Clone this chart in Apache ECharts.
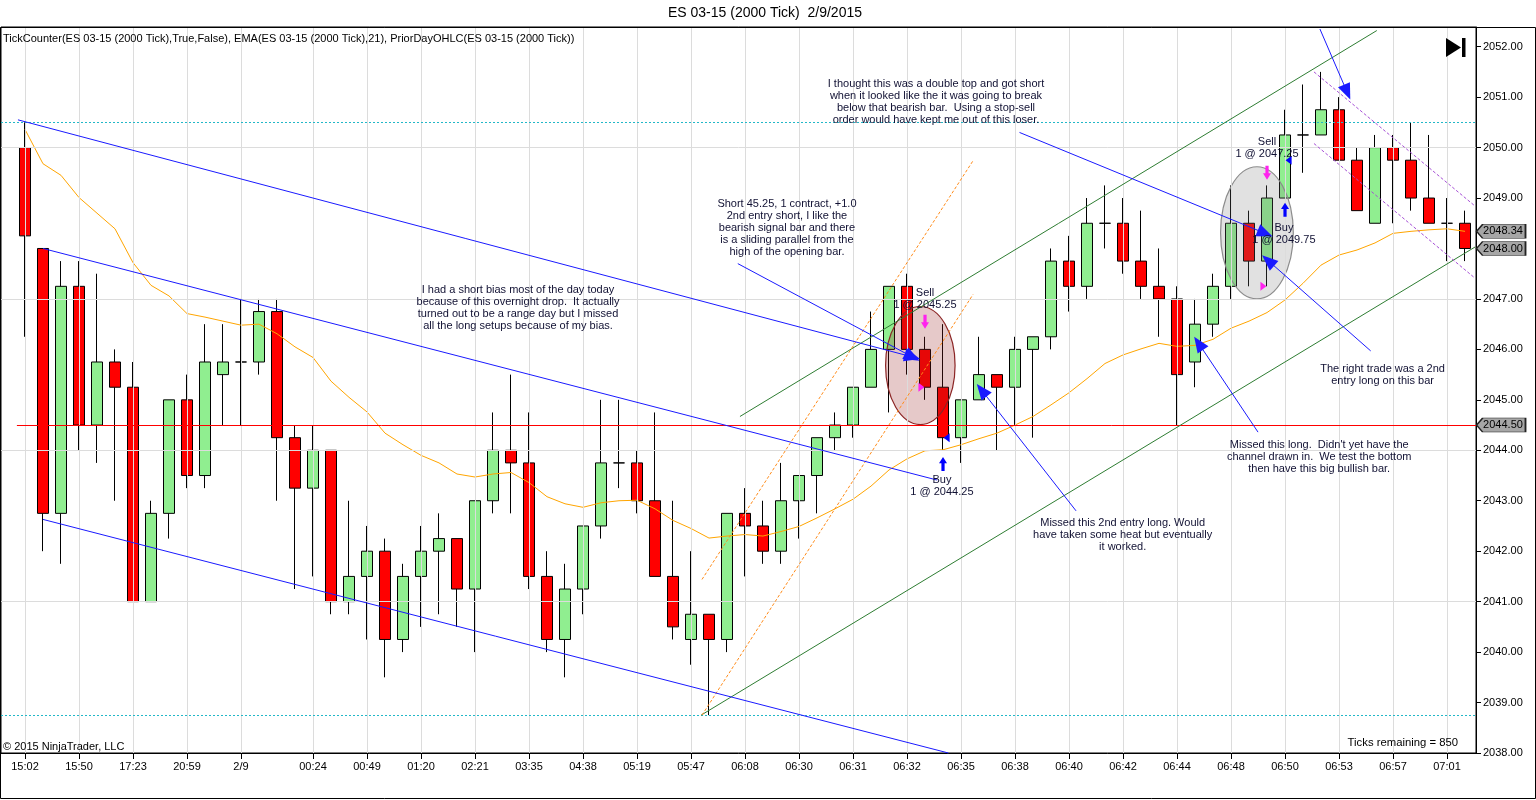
<!DOCTYPE html>
<html><head><meta charset="utf-8">
<script src="https://cdn.jsdelivr.net/npm/echarts@6/dist/echarts.min.js"></script>
<style>html,body{margin:0;padding:0;background:#fff}#chart{width:1536px;height:800px}</style>
</head><body><div id="chart"></div>
<script>
// ---- tick labels (time axis) ----
const tickIndex = [0,3,6,9,12,16,19,22,25,28,31,34,37,40,43,46,49,52,55,58,61,64,67,70,73,76,79];
const tickLabels = ['15:02','15:50','17:23','20:59','2/9','00:24','00:49','01:20','02:21','03:35','04:38','05:19','05:47','06:08','06:30','06:31','06:32','06:35','06:38','06:40','06:42','06:44','06:48','06:50','06:53','06:57','07:01'];
const priceTicks = [2038,2039,2040,2041,2042,2043,2044,2045,2046,2047,2048,2049,2050,2051,2052];
const gridPrices = [2041,2044,2047,2050];

// ---- OHLC bars ----
const opens = [2050.0,2048.0,2042.75,2047.25,2044.5,2045.75,2045.25,2041.0,2042.75,2045.0,
2043.5,2045.5,2045.75,2045.75,2046.75,2044.25,2043.25,2044.0,2041.0,2041.5,
2042.0,2040.25,2041.5,2042.0,2042.25,2041.25,2043.0,2044.0,2043.75,2041.5,
2040.25,2041.25,2042.5,2043.75,2043.75,2043.0,2041.5,2040.25,2040.75,2040.25,
2042.75,2042.5,2042.0,2043.0,2043.5,2044.25,2044.5,2045.25,2046.0,2047.25,
2046.0,2045.25,2044.25,2045.0,2045.5,2045.25,2046.0,2046.25,2047.75,2047.25,
2048.5,2048.5,2047.75,2047.25,2047.0,2045.75,2046.5,2047.25,2048.5,2047.75,
2049.0,2050.25,2050.25,2050.75,2049.75,2048.5,2050.0,2049.75,2049.0,2048.5,
2048.5];
const closes = [2048.25,2042.75,2047.25,2044.5,2045.75,2045.25,2041.0,2042.75,2045.0,2043.5,
2045.75,2045.75,2045.75,2046.75,2044.25,2043.25,2044.0,2041.0,2041.5,2042.0,
2040.25,2041.5,2042.0,2042.25,2041.25,2043.0,2044.0,2043.75,2041.5,2040.25,
2041.25,2042.5,2043.75,2043.75,2043.0,2041.5,2040.5,2040.75,2040.25,2042.75,
2042.5,2042.0,2043.0,2043.5,2044.25,2044.5,2045.25,2046.0,2047.25,2046.0,
2045.25,2044.25,2045.0,2045.5,2045.25,2046.0,2046.25,2047.75,2047.25,2048.5,
2048.5,2047.75,2047.25,2047.0,2045.5,2046.5,2047.25,2048.5,2047.75,2049.0,
2050.25,2050.25,2050.75,2049.75,2048.75,2050.0,2049.75,2049.0,2048.5,2048.5,
2048.0];
const lows = [2046.25,2042.0,2041.75,2044.0,2043.75,2043.0,2041.0,2041.0,2042.25,2043.25,
2043.25,2044.5,2044.5,2045.5,2043.0,2041.25,2041.5,2040.75,2040.75,2040.25,
2039.5,2040.0,2040.5,2040.75,2040.5,2040.0,2042.75,2042.75,2041.25,2040.0,
2039.5,2040.75,2042.25,2043.25,2042.75,2041.5,2040.25,2039.75,2038.75,2040.0,
2041.5,2041.75,2041.75,2042.25,2042.75,2044.0,2044.25,2045.25,2044.75,2045.5,
2045.0,2044.0,2043.75,2045.0,2044.0,2044.5,2044.25,2046.0,2046.75,2047.0,
2048.0,2047.5,2047.0,2046.25,2044.5,2045.25,2046.25,2047.0,2047.25,2047.25,
2049.0,2049.5,2050.25,2049.75,2048.75,2048.5,2048.5,2048.75,2048.5,2047.75,
2047.75];
const highs = [2050.5,2048.0,2047.75,2047.75,2047.5,2046.0,2045.75,2043.0,2045.0,2045.5,
2046.5,2046.5,2047.0,2047.0,2047.0,2044.5,2044.5,2044.0,2043.0,2042.5,
2042.25,2041.75,2042.5,2042.75,2042.25,2043.0,2044.75,2045.5,2044.75,2042.0,
2041.75,2042.5,2045.0,2045.0,2044.0,2044.75,2043.0,2042.0,2040.75,2042.75,
2043.25,2043.0,2043.75,2043.5,2044.25,2044.75,2045.25,2046.75,2047.25,2047.5,
2046.25,2046.5,2045.0,2046.25,2045.5,2046.25,2046.25,2048.0,2048.25,2049.0,
2049.25,2049.0,2048.75,2048.0,2047.25,2047.0,2047.5,2049.25,2048.75,2049.25,
2050.75,2051.25,2051.5,2051.0,2050.0,2050.25,2050.25,2050.5,2050.25,2049.0,
2048.75];
// ---- EMA(21) ----
const ema = [2050.36,2049.68,2049.45,2049.01,2048.70,2048.39,2047.72,2047.27,2047.06,2046.71,
2046.64,2046.56,2046.48,2046.50,2046.31,2046.05,2045.84,2045.37,2045.05,2044.76,
2044.34,2044.11,2043.90,2043.75,2043.53,2043.47,2043.53,2043.56,2043.36,2043.08,
2042.94,2042.87,2042.96,2043.00,2043.01,2042.84,2042.61,2042.45,2042.26,2042.30,
2042.33,2042.30,2042.39,2042.49,2042.66,2042.84,2043.03,2043.29,2043.61,2043.83,
2043.99,2044.01,2044.11,2044.23,2044.34,2044.50,2044.67,2044.90,2045.14,2045.42,
2045.72,2045.89,2046.01,2046.12,2046.06,2046.08,2046.20,2046.42,2046.56,2046.73,
2046.98,2047.31,2047.67,2047.87,2047.97,2048.11,2048.30,2048.34,2048.37,2048.39,
2048.34];

// ---- prior day levels ----
const priorHigh = 2050.5, priorLow = 2038.75, priorClose = 2044.5;

// ---- drawing objects, in (bar index, price) ----
const blueLines = [[[1,2048.0],[50.67,2043.41]], [[1,2042.63],[51.3,2038.0]]];
const blueArrows = [
  [[-0.39,2050.55],[49.3,2045.85]],
  [[39.6,2047.7],[49.3,2045.85]],
  [[55.25,2050.3],[68.9,2048.3]],
  [[71.94,2052.35],[73.45,2051.1]],
  [[74.76,2045.97],[69.06,2047.76]],
  [[68.5,2044.36],[65.2,2046.12]],
  [[58.39,2042.8],[53.15,2045.19]]
];
const greenLines = [[[39.72,2044.67],[75.1,2052.32]], [[37.56,2038.75],[80.56,2048.03]]];
const orangeLines = [[[37.61,2041.44],[52.67,2049.74]], [[37.61,2038.75],[52.67,2047.09]]];
const purpleLines = [[[71.61,2051.5],[80.56,2048.84]], [[71.61,2050.08],[80.56,2047.41]]];
const ellipses = [[49.74,2045.68,1.93,1.17],[68.44,2048.31,2.02,1.31]];

// ---- executions ----
const sellArrows = [[50,2046.55],[69,2049.5]];
const buyArrows = [[51,2043.73],[70,2048.77]];
const sellFills = [[49.8,2045.25],[68.8,2047.25]];
const buyFills = [[51.2,2044.25],[70.2,2049.75]];

// ---- text notes, anchored at (bar index, price) ----
const notePos = [[27.39,2046.82],[42.33,2048.40],[50.61,2050.91],[50.0,2047.0],[50.94,2043.29],
  [69.0,2050.0],[69.94,2048.29],[60.98,2042.32],[71.9,2043.87],[75.42,2045.5]];
const noteText = [
  'I had a short bias most of the day today\nbecause of this overnight drop.  It actually\nturned out to be a range day but I missed\nall the long setups because of my bias.',
  'Short 45.25, 1 contract, +1.0\n2nd entry short, I like the\nbearish signal bar and there\nis a sliding parallel from the\nhigh of the opening bar.',
  'I thought this was a double top and got short\nwhen it looked like the it was going to break\nbelow that bearish bar.  Using a stop-sell\norder would have kept me out of this loser.',
  'Sell\n1 @ 2045.25',
  'Buy\n1 @ 2044.25',
  'Sell\n1 @ 2047.25',
  'Buy\n1 @ 2049.75',
  'Missed this 2nd entry long. Would\nhave taken some heat but eventually\nit worked.',
  'Missed this long.  Didn\'t yet have the\nchannel drawn in.  We test the bottom\nthen have this big bullish bar.',
  'The right trade was a 2nd\nentry long on this bar'
];

// ---------------------------------------------------------------
const XMIN = -1.333, XMAX = 80.61;
const FONT = '"Liberation Sans", Arial, sans-serif';
const candleData = opens.map((o, i) => [i, o, closes[i], lows[i], highs[i]]);
const seg = (arr, style, sym) => arr.map(p => [
  {coord: p[0], lineStyle: style, symbol: 'none'},
  {coord: p[1], symbol: sym || 'none'}
]);

const chart = echarts.init(document.getElementById('chart'), null, {renderer: 'canvas'});
const option = {
  animation: false,
  backgroundColor: '#fff',
  grid: {left: 1, right: 60, top: 27, bottom: 47, show: true, borderColor: '#000', borderWidth: 1, backgroundColor: '#fff'},
  xAxis: {
    type: 'value', min: XMIN, max: XMAX,
    axisLine: {show: true, onZero: false, lineStyle: {color: '#000'}},
    axisTick: {show: true, customValues: tickIndex, length: 6, lineStyle: {color: '#000'}},
    axisLabel: {customValues: tickIndex, color: '#000', fontSize: 11, fontFamily: FONT, margin: 8,
      formatter: v => tickLabels[tickIndex.indexOf(Math.round(v))] || ''},
    splitLine: {show: false}
  },
  yAxis: {
    type: 'value', position: 'right', min: 2038, max: 2052.39,
    axisLine: {show: true, onZero: false, lineStyle: {color: '#000'}},
    axisTick: {show: true, customValues: priceTicks, length: 5, lineStyle: {color: '#000'}},
    axisLabel: {customValues: priceTicks, color: '#000', fontSize: 11, fontFamily: FONT, margin: 7,
      formatter: v => v.toFixed(2)},
    splitLine: {show: false}
  },
  graphic: [
    {type: 'rect', shape: {x: 0.5, y: 27.5, width: 1535, height: 771}, style: {fill: 'none', stroke: '#000', lineWidth: 1}, z: 100, silent: true},
    {type: 'text', x: 765, y: 13, style: {text: 'ES 03-15 (2000 Tick)  2/9/2015', font: '14px ' + FONT, fill: '#000', align: 'center', verticalAlign: 'middle', textAlign: 'center', textVerticalAlign: 'middle'}, z: 100},
    {type: 'text', x: 3, y: 39, style: {text: 'TickCounter(ES 03-15 (2000 Tick),True,False), EMA(ES 03-15 (2000 Tick),21), PriorDayOHLC(ES 03-15 (2000 Tick))', font: '11px ' + FONT, fill: '#000', align: 'left', verticalAlign: 'middle', textAlign: 'left', textVerticalAlign: 'middle'}, z: 100},
    {type: 'text', x: 3, y: 747, style: {text: '\u00A9 2015 NinjaTrader, LLC', font: '11px ' + FONT, fill: '#000', align: 'left', verticalAlign: 'middle', textAlign: 'left', textVerticalAlign: 'middle'}, z: 100},
    {type: 'text', x: 1458, y: 743, style: {text: 'Ticks remaining = 850', font: '11.3px ' + FONT, fill: '#000', align: 'right', verticalAlign: 'middle', textAlign: 'right', textVerticalAlign: 'middle'}, z: 100},
    {type: 'polygon', shape: {points: [[1446, 38], [1461, 47.5], [1446, 57]]}, style: {fill: '#000'}, z: 100},
    {type: 'rect', shape: {x: 1462, y: 38, width: 3.5, height: 19}, style: {fill: '#000'}, z: 100}
  ],
  series: [
    { // grid lines
      type: 'line', data: [], z: 1, silent: true,
      markLine: {silent: true, symbol: 'none', label: {show: false}, animation: false,
        lineStyle: {color: '#DCDCDC', width: 1, type: 'solid'},
        data: tickIndex.map(i => ({xAxis: i})).concat(gridPrices.map(p => ({yAxis: p})))}
    },
    { // prior day OHLC
      type: 'line', data: [], z: 1.5, silent: true,
      markLine: {silent: true, symbol: 'none', label: {show: false}, animation: false,
        data: [
          {yAxis: priorHigh, lineStyle: {color: '#22B8C8', width: 1, type: [2, 2]}},
          {yAxis: priorLow, lineStyle: {color: '#22B8C8', width: 1, type: [2, 2]}},
          [{coord: [-0.45, priorClose], lineStyle: {color: '#FF0000', width: 1, type: 'solid'}}, {coord: [XMAX, priorClose]}]
        ]}
    },
    {
      type: 'candlestick', name: 'ES 03-15',
      dimensions: ['i', 'open', 'close', 'lowest', 'highest'],
      encode: {x: 'i', y: ['open', 'close', 'lowest', 'highest']},
      data: candleData, barWidth: 12, z: 2, clip: false,
      itemStyle: {color: '#90EE90', color0: '#FF0000', borderColor: '#000', borderColor0: '#000', borderWidth: 1}
    },
    {
      type: 'line', name: 'EMA', data: ema.map((v, i) => [i, v]), z: 3,
      showSymbol: false, symbol: 'none', lineStyle: {color: '#FFA500', width: 1}
    },
    { // drawn channel lines
      type: 'line', data: [], z: 4, silent: true,
      markLine: {silent: true, symbol: 'none', label: {show: false}, animation: false,
        data: [].concat(
          seg(greenLines, {color: '#2E7D32', width: 1, type: 'solid'}),
          seg(orangeLines, {color: '#FF8C1A', width: 1, type: [3, 2]}),
          seg(purpleLines, {color: '#A64FD6', width: 1, type: [3, 2]}),
          seg(blueLines, {color: '#1A1AFF', width: 1, type: 'solid'})
        )}
    },
    { // ellipses
      type: 'custom', z: 4.5, silent: true, clip: false,
      data: ellipses, encode: {x: 0, y: 1},
      renderItem: (params, api) => {
        const c = api.coord([api.value(0), api.value(1)]);
        const s = api.size([api.value(2), api.value(3)]);
        const first = params.dataIndex === 0;
        return {type: 'ellipse', shape: {cx: c[0], cy: c[1], rx: s[0], ry: s[1]},
          style: {fill: first ? 'rgba(150,30,30,0.24)' : 'rgba(120,120,120,0.22)',
                  stroke: first ? '#8B2525' : '#8C8C8C', lineWidth: 1.2}};
      }
    },
    { // annotation arrows
      type: 'line', data: [], z: 5, silent: true,
      markLine: {silent: true, symbol: 'none', symbolSize: [13, 16], label: {show: false}, animation: false,
        data: seg(blueArrows, {color: '#1A1AFF', width: 1, type: 'solid'}, 'triangle'),
        itemStyle: {color: '#0000FF'}}
    },
    { // execution markers and axis price boxes
      type: 'line', data: [], z: 6, silent: true,
      markPoint: {silent: true, animation: false, label: {show: false},
        data: [].concat(
          sellArrows.map(p => ({coord: p, symbol: 'path://M3,0 L7,0 L7,7 L10,7 L5,13 L0,7 L3,7 Z', symbolSize: [8, 14], itemStyle: {color: '#FF22EE'}})),
          buyArrows.map(p => ({coord: p, symbol: 'path://M5,0 L10,6 L7,6 L7,13 L3,13 L3,6 L0,6 Z', symbolSize: [8, 14], itemStyle: {color: '#0000FF'}})),
          sellFills.map(p => ({coord: p, symbol: 'path://M0,0 L7,4 L0,8 Z', symbolSize: [6, 9], itemStyle: {color: '#FF22EE'}})),
          buyFills.map(p => ({coord: p, symbol: 'path://M7,0 L0,4 L7,8 Z', symbolSize: [6, 9], itemStyle: {color: '#0000FF'}})),
          [ema[ema.length - 1], closes[closes.length - 1], priorClose].map(v => ({
            coord: [XMAX, v], value: v.toFixed(2),
            symbol: 'path://M0,6 L6,0 L48,0 L48,12 L6,12 Z', symbolSize: [49, 14], symbolOffset: [25, 0],
            itemStyle: {color: '#A6A6A6', borderColor: '#222', borderWidth: 1},
            label: {show: true, position: 'inside', formatter: '{c}', color: '#000', fontSize: 11, fontFamily: FONT, offset: [2, 0]}
          }))
        )}
    },
    { // text notes
      type: 'custom', z: 7, silent: true, clip: false,
      data: notePos, encode: {x: 0, y: 1},
      renderItem: (params, api) => {
        const c = api.coord([api.value(0), api.value(1)]);
        return {type: 'text', x: c[0], y: c[1],
          style: {text: noteText[params.dataIndex], font: '11px ' + FONT, fill: '#111133',
            align: 'center', verticalAlign: 'middle', textAlign: 'center', textVerticalAlign: 'middle', lineHeight: 12}};
      }
    }
  ]
};
chart.setOption(option);
</script>
</body></html>
